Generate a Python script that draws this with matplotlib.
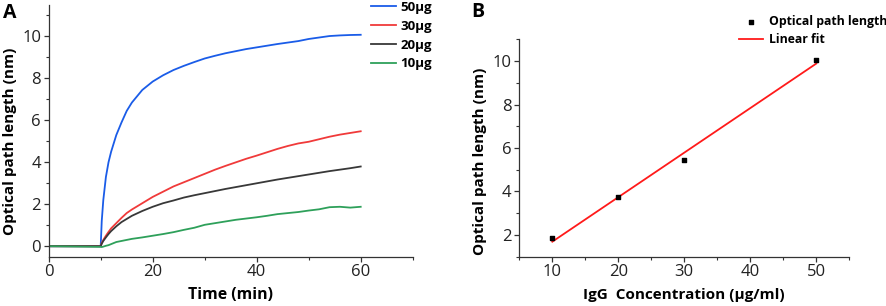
import numpy as np
import matplotlib
matplotlib.use("Agg")
import matplotlib.pyplot as plt
from matplotlib.ticker import MultipleLocator

plt.rcParams['font.family'] = ['Open Sans', 'DejaVu Sans']

# ---- Panel A data ----
time_min = [0, 10, 10.2, 10.5, 11, 11.5, 12, 13, 14, 15, 16, 18, 20, 22, 24, 26, 28,
            30, 32, 34, 36, 38, 40, 42, 44, 46, 48, 50, 52, 54, 56, 58, 60]
opl_50 = [0, 0, 1.2, 2.2, 3.3, 4.0, 4.5, 5.3, 5.9, 6.45, 6.85, 7.45, 7.85, 8.15, 8.4, 8.6, 8.78,
          8.95, 9.08, 9.2, 9.3, 9.4, 9.48, 9.56, 9.64, 9.71, 9.78, 9.88, 9.95, 10.02, 10.05, 10.07, 10.08]
opl_30 = [0, 0, 0.15, 0.3, 0.5, 0.68, 0.85, 1.1, 1.35, 1.58, 1.75, 2.05, 2.35, 2.6, 2.85, 3.05, 3.25,
          3.45, 3.65, 3.83, 4.0, 4.17, 4.32, 4.48, 4.64, 4.78, 4.9, 4.98, 5.1, 5.22, 5.32, 5.4, 5.48]
opl_20 = [0, 0, 0.12, 0.25, 0.42, 0.58, 0.72, 0.95, 1.15, 1.3, 1.45, 1.68, 1.88, 2.05, 2.18, 2.32, 2.43,
          2.53, 2.63, 2.73, 2.82, 2.91, 3.0, 3.09, 3.18, 3.26, 3.34, 3.42, 3.5, 3.58, 3.65, 3.72, 3.8]
opl_10 = [0, -0.03, -0.04, -0.02, 0.02, 0.05, 0.1, 0.2, 0.25, 0.3, 0.35, 0.42, 0.5, 0.58, 0.67, 0.78, 0.88,
          1.02, 1.1, 1.18, 1.26, 1.32, 1.38, 1.45, 1.53, 1.58, 1.63, 1.7, 1.76, 1.86, 1.88, 1.84, 1.88]
series_labels = ['50\u03bcg', '30\u03bcg', '20\u03bcg', '10\u03bcg']
series_colors = ['#1a5ce8', '#f03a3a', '#383838', '#2ea05a']

# ---- Panel B data ----
igg_conc = [10, 20, 30, 50]
igg_opl = [1.85, 3.75, 5.45, 10.05]

W, H = 886, 306
fig = plt.figure(figsize=(W / 100, H / 100), dpi=100)

def rect(l, t, r, b):
    return [l / W, 1 - b / H, (r - l) / W, (b - t) / H]

def style(ax):
    for s in ['top', 'right']:
        ax.spines[s].set_visible(False)
    for s in ['left', 'bottom']:
        ax.spines[s].set_linewidth(0.9)
        ax.spines[s].set_color('#333333')
    ax.tick_params(which='major', direction='out', length=3.5, width=0.9,
                   labelsize=12, pad=2, color='#333333', labelcolor='#222222')
    ax.tick_params(which='minor', direction='out', length=2, width=0.8, color='#333333')

# Panel A
axA = fig.add_axes(rect(48.7, 5, 412.7, 256.7))
for ys, lab, col in zip([opl_50, opl_30, opl_20, opl_10], series_labels, series_colors):
    axA.plot(time_min, ys, color=col, lw=1.3, label=lab)
axA.set_xlim(0, 70)
axA.set_ylim(-0.5, 11.5)
axA.xaxis.set_major_locator(MultipleLocator(20))
axA.xaxis.set_minor_locator(MultipleLocator(10))
axA.yaxis.set_major_locator(MultipleLocator(2))
axA.yaxis.set_minor_locator(MultipleLocator(1))
axA.set_xticks([0, 20, 40, 60])
style(axA)
axA.legend(loc='upper left', bbox_to_anchor=(368 / W, 1 - (-2) / H), bbox_transform=fig.transFigure,
           frameon=False, handlelength=1.9, handletextpad=0.35, labelspacing=0.45,
           prop={'weight': 'bold', 'size': 9.5}, borderaxespad=0, borderpad=0.2)

fig.text(230.7 / W, 1 - 295 / H, 'Time (min)', ha='center', va='center',
         fontsize=11.4, fontweight='bold')
fig.text(10 / W, 1 - 141 / H, 'Optical path length (nm)', ha='center', va='center',
         rotation=90, fontsize=11, fontweight='bold')
fig.text(3 / W, 1 - 13 / H, 'A', ha='left', va='center', fontsize=14, fontweight='bold')

# Panel B
axB = fig.add_axes(rect(519.3, 39.3, 849.3, 256.7))
xb = np.array(igg_conc, dtype=float)
coef = np.polyfit(xb, igg_opl, 1)
xfit = np.array([xb.min(), xb.max()])
axB.scatter(igg_conc, igg_opl, marker='s', s=10, color='black', zorder=3,
            label='Optical path length')
axB.plot(xfit, np.polyval(coef, xfit), color='#ff1a1a', lw=1.3, label='Linear fit')
axB.set_xlim(5, 55)
axB.set_ylim(1, 11)
axB.xaxis.set_major_locator(MultipleLocator(10))
axB.xaxis.set_minor_locator(MultipleLocator(5))
axB.yaxis.set_major_locator(MultipleLocator(2))
axB.yaxis.set_minor_locator(MultipleLocator(1))
axB.set_xticks([10, 20, 30, 40, 50])
axB.set_yticks([2, 4, 6, 8, 10])
style(axB)
axB.legend(loc='upper left', bbox_to_anchor=(737 / W, 1 - 13 / H), bbox_transform=fig.transFigure,
           frameon=False, handlelength=1.9, handletextpad=0.5, labelspacing=0.4,
           prop={'weight': 'bold', 'size': 8.8}, borderaxespad=0, borderpad=0.2,
           scatterpoints=1)

fig.text(684.3 / W, 1 - 295 / H, 'IgG  Concentration (\u03bcg/ml)', ha='center', va='center',
         fontsize=11, fontweight='bold')
fig.text(480 / W, 1 - 161 / H, 'Optical path length (nm)', ha='center', va='center',
         rotation=90, fontsize=11, fontweight='bold')
fig.text(471 / W, 1 - 12 / H, 'B', ha='left', va='center', fontsize=14, fontweight='bold')

fig.savefig('out.png', dpi=100, facecolor='white')
